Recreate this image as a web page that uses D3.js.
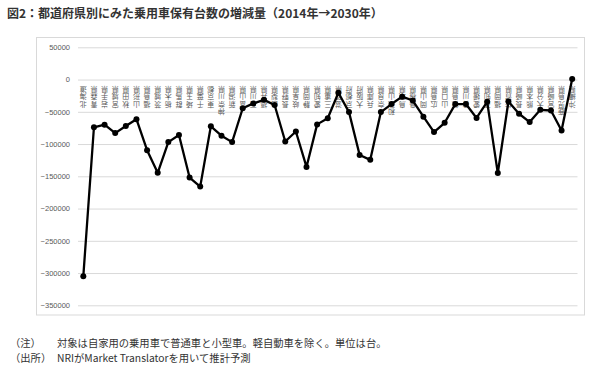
<!DOCTYPE html>
<html><head><meta charset="utf-8">
<script src="https://cdn.jsdelivr.net/npm/d3@7"></script>
<style>
html,body{margin:0;padding:0;background:#fff;}
svg{display:block;}
</style></head>
<body>
<script>
const prefectures = ["北海道","青森県","岩手県","宮城県","秋田県","山形県","福島県","茨城県","栃木県","群馬県","埼玉県","千葉県","東京都","神奈川県","新潟県","富山県","石川県","福井県","山梨県","長野県","岐阜県","静岡県","愛知県","三重県","滋賀県","京都府","大阪府","兵庫県","奈良県","和歌山県","鳥取県","島根県","岡山県","広島県","山口県","徳島県","香川県","愛媛県","高知県","福岡県","佐賀県","長崎県","熊本県","大分県","宮崎県","鹿児島県","沖縄県"];
const changes = [-305000,-74000,-70000,-83000,-72000,-61500,-109500,-144500,-97000,-86000,-152000,-166000,-72500,-87000,-97000,-44500,-37000,-31500,-39500,-96000,-80500,-135500,-69500,-60000,-20500,-50500,-117000,-124500,-50500,-38000,-26500,-32500,-57500,-81500,-67000,-38000,-38000,-59500,-34500,-145000,-34000,-53000,-66000,-47000,-48000,-79000,1000];
const yTicks = [50000,0,-50000,-100000,-150000,-200000,-250000,-300000,-350000];
const titleText = "図2：都道府県別にみた乗用車保有台数の増減量（2014年→2030年）";
const notes = [["（注）","対象は自家用の乗用車で普通車と小型車。軽自動車を除く。単位は台。"],["（出所）","NRIがMarket Translatorを用いて推計予測"]];

const W = 601, H = 375;
const svg = d3.select("body").append("svg").attr("width", W).attr("height", H);

svg.append("text").attr("x", 7).attr("y", 17.5)
  .attr("font-family", "'Noto Sans CJK JP', sans-serif").attr("font-weight", "bold")
  .attr("font-size", 12).attr("fill", "#333").text(titleText);

// chart frame
svg.append("rect").attr("x", 36.5).attr("y", 37.5).attr("width", 548).attr("height", 277.5)
  .attr("fill", "none").attr("stroke", "#d9d9d9").attr("stroke-width", 1);

const x = d3.scalePoint().domain(prefectures).range([78, 577.5]).padding(0.5);
const y = d3.scaleLinear().domain([-350000, 50000]).range([305.3, 47.3]);

const yAxis = svg.append("g").attr("transform", "translate(78,0)")
  .call(d3.axisLeft(y).tickValues(yTicks).tickSize(-499.5).tickPadding(8).tickFormat(d3.format("d")));
yAxis.select(".domain").remove();
yAxis.selectAll(".tick line").attr("stroke", "#d9d9d9").attr("stroke-width", 1);
yAxis.selectAll(".tick text").attr("fill", "#595959").attr("font-size", 7.5)
  .attr("font-family", "'Liberation Sans', Arial, sans-serif");

// category labels: vertical text rotated 180°
const labG = svg.append("g").attr("font-family", "'Noto Sans CJK JP', sans-serif")
  .attr("font-size", 7).attr("fill", "#595959");
prefectures.forEach(p => {
  const chars = Array.from(p).reverse();
  const cx = x(p);
  chars.forEach((c, i) => {
    const cy = 90.2 + i * 7.2;
    labG.append("text").attr("x", cx).attr("y", cy)
      .attr("text-anchor", "middle").attr("dominant-baseline", "central")
      .attr("transform", `rotate(180,${cx},${cy})`).text(c);
  });
});

const line = d3.line().x((d, i) => x(prefectures[i])).y(d => y(d));
svg.append("path").datum(changes).attr("d", line)
  .attr("fill", "none").attr("stroke", "#000").attr("stroke-width", 2.3).attr("stroke-linejoin", "round");
svg.append("g").selectAll("circle").data(changes).join("circle")
  .attr("cx", (d, i) => x(prefectures[i])).attr("cy", d => y(d)).attr("r", 3).attr("fill", "#000");

// notes
const ng = svg.append("g").attr("font-family", "'Noto Sans CJK JP', sans-serif").attr("font-size", 10.3).attr("fill", "#333");
notes.forEach((n, i) => {
  const yy = 346.5 + i * 15;
  ng.append("text").attr("x", 10).attr("y", yy).text(n[0]);
  ng.append("text").attr("x", 57).attr("y", yy).text(n[1]);
});
</script>
</body></html>
